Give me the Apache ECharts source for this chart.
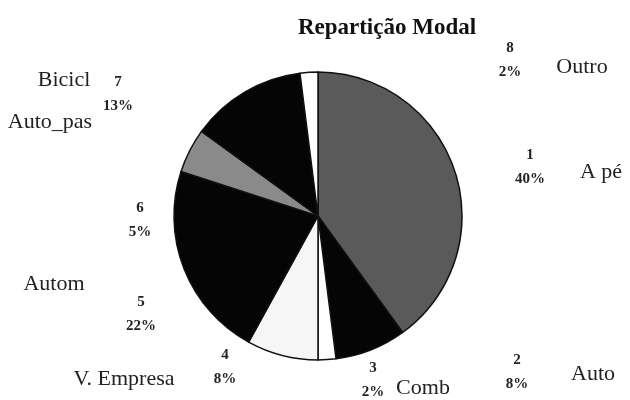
<!DOCTYPE html>
<html>
<head>
<meta charset="utf-8">
<script src="https://cdn.jsdelivr.net/npm/echarts@6/dist/echarts.min.js"></script>
<style>
  html, body { margin: 0; padding: 0; background: #fff; }
  #chart { width: 630px; height: 400px; }
</style>
</head>
<body>
<div id="chart"></div>
<script>
// data
const categories = ["A pé", "Auto", "Comb", "V. Empresa", "Autom", "Auto_pas", "Bicicl", "Outro"];
const codes = ["1", "2", "3", "4", "5", "6", "7", "8"];
const shares = [40, 8, 2, 8, 22, 5, 13, 2];

// slice fills (scanned greys)
const fills = ["#5a5a5a", "#050505", "#ffffff", "#f6f6f6", "#050505", "#8a8a8a", "#050505", "#ffffff"];

// label placement (centre of the "code / percent" block and of the name)
const codePos = [[530, 167], [517, 372], [373, 380], [225, 367], [141, 314], [140, 220], [118, 94], [510, 60]];
const namePos = [[601, 172], [593, 374], [423, 388], [124, 379], [54, 284], [50, 122], [64, 80], [582, 67]];

const serif = "Liberation Serif";

const pieData = categories.map((c, i) => ({
  name: c,
  value: shares[i],
  itemStyle: { color: fills[i] }
}));

const chart = echarts.init(document.getElementById("chart"));

chart.setOption({
  backgroundColor: "#fff",
  animation: false,
  title: {
    text: "Repartição Modal",
    left: 382,
    top: 12,
    textAlign: "center",
    textStyle: {
      fontFamily: serif,
      fontSize: 23,
      fontWeight: "bold",
      color: "#111"
    }
  },
  series: [
    {
      type: "pie",
      center: [318, 216],
      radius: [0, 144],
      startAngle: 90,
      clockwise: true,
      avoidLabelOverlap: false,
      itemStyle: { borderColor: "#111", borderWidth: 1.5 },
      labelLine: { show: false },
      label: {
        show: true,
        formatter: p => codes[p.dataIndex] + "\n" + shares[p.dataIndex] + "%",
        fontFamily: serif,
        fontSize: 15,
        fontWeight: "bold",
        lineHeight: 24,
        color: "#222"
      },
      labelLayout: p => ({
        x: codePos[p.dataIndex][0],
        y: codePos[p.dataIndex][1],
        align: "center",
        verticalAlign: "middle"
      }),
      data: pieData
    },
    {
      type: "pie",
      center: [318, 216],
      radius: [0, 144],
      startAngle: 90,
      silent: true,
      avoidLabelOverlap: false,
      itemStyle: { color: "transparent", borderWidth: 0 },
      labelLine: { show: false },
      label: {
        show: true,
        formatter: "{b}",
        fontFamily: serif,
        fontSize: 22,
        color: "#222"
      },
      labelLayout: p => ({
        x: namePos[p.dataIndex][0],
        y: namePos[p.dataIndex][1],
        align: "center",
        verticalAlign: "middle"
      }),
      data: categories.map((c, i) => ({ name: c, value: shares[i] }))
    }
  ]
});
</script>
</body>
</html>
